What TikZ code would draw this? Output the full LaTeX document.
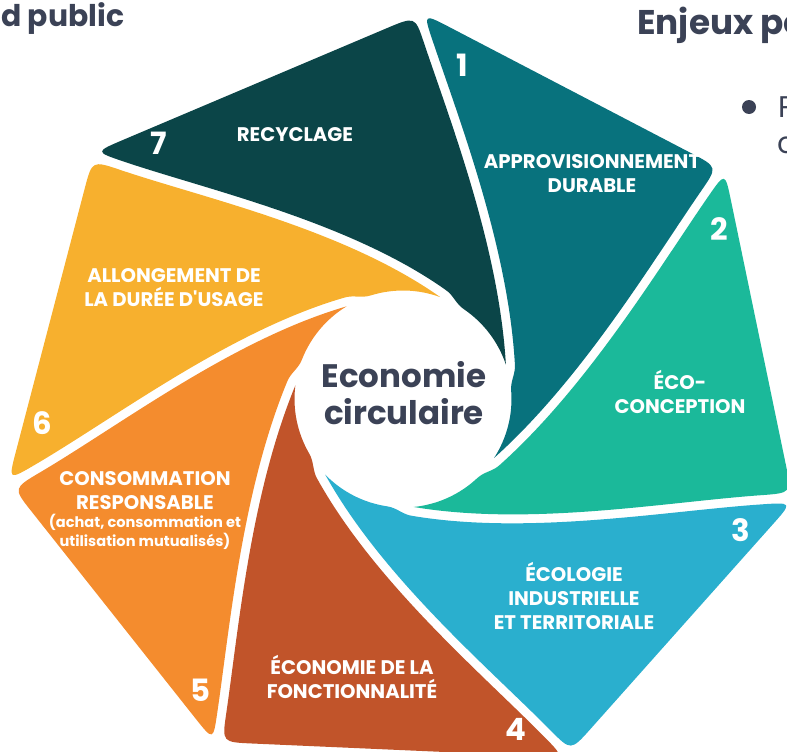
\documentclass[tikz,border=0pt]{standalone}
\usepackage{fontspec}
\setmainfont{Poppins}
\usetikzlibrary{calc}

\definecolor{bladeA}{HTML}{08727D}
\definecolor{bladeB}{HTML}{1BB99A}
\definecolor{bladeC}{HTML}{2AAFCE}
\definecolor{bladeD}{HTML}{C1542A}
\definecolor{bladeE}{HTML}{F48C2E}
\definecolor{bladeF}{HTML}{F7B02E}
\definecolor{bladeG}{HTML}{0B4548}
\definecolor{slate}{HTML}{3B4256}

\tikzset{
  bladelabel/.style={text=white,align=center,inner sep=0pt,
    font=\bfseries\fontsize{11.2}{13.7}\selectfont},
  bladesub/.style={text=white,align=center,inner sep=0pt,
    font=\bfseries\fontsize{8.3}{10.8}\selectfont},
  bladenum/.style={text=white,inner sep=0pt,
    font=\bfseries\fontsize{17.5}{17.5}\selectfont},
}

\begin{document}
\begin{tikzpicture}[x=0.02cm,y=0.02cm]
  \useasboundingbox (-403,-352) rectangle (384,399);
  \clip (-403,-352) rectangle (384,399);

  % seven blades round the centre (outer corners: angle shift, radius)
  \foreach \k/\col/\da/\ra/\db/\rb in {1/bladeA/-0.3/383/-0.67/391,
      2/bladeB/-0.67/391/0.76/400, 3/bladeC/0.76/400/1.29/390,
      4/bladeD/1.29/390/-0.59/388, 5/bladeE/-0.59/388/1.54/400,
      6/bladeF/1.54/400/2.57/392, 7/bladeG/2.57/392/-0.3/383}{
    \pgfmathsetmacro\a{88.5-\k*51.4286}
    \begin{scope}[rotate=\a]
      \coordinate (vb) at (\db:\rb);
      \coordinate (c1) at ({\db-7.77}:282.6);
      \coordinate (c2) at (155,-92);
      \coordinate (tb) at (-70:108.5);
      \begin{scope}[rotate=51.4286]
        \coordinate (va) at ({\da-1.25}:{\ra+3});
        \coordinate (d1) at ({\da-9.37}:286.7);
        \coordinate (d2) at (156.2,-100.9);
        \coordinate (ta) at (38.3,-110.9);
      \end{scope}
      \fill[\col] ($(va)!0.09!(vb)$) -- ($(vb)!0.09!(va)$)
        .. controls (vb) .. ($(vb)!0.25!(c1)$)
        .. controls (c1) and (c2) .. (tb)
        arc[start angle=-70,end angle=-32.57,radius=108.5]
        .. controls +(57.43:10) and +(238.93:10) .. (ta)
        .. controls (d2) and (d1) .. ($(va)!0.25!(d1)$)
        .. controls (va) .. ($(va)!0.09!(vb)$) -- cycle;
    \end{scope}
  }

  % centre
  \node[text=slate,align=center,font=\bfseries\fontsize{18.5}{21}\selectfont]
    (centre) at (1,6) {Economie\\circulaire};

  % labels
  \node[bladelabel] (l1) at (189,225) {APPROVISIONNEMENT\\DURABLE};
  \node[bladelabel] (l2) at (277,7.5) {ÉCO-\\CONCEPTION};
  \node[bladelabel] (l3) at (171,-197) {ÉCOLOGIE\\INDUSTRIELLE\\ET TERRITORIALE};
  \node[bladelabel] (l4) at (-51,-278) {ÉCONOMIE DE LA\\FONCTIONNALITÉ};
  \node[bladelabel] (l5) at (-258,-92) {CONSOMMATION\\RESPONSABLE};
  \node[bladesub] (l5b) at (-258,-132.5) {(achat, consommation et\\utilisation mutualisés)};
  \node[bladelabel] (l6) at (-229,111) {ALLONGEMENT DE\\LA DURÉE D\textquotesingle USAGE};
  \node[bladelabel] (l7) at (-108,264) {RECYCLAGE};

  % numbers
  \node[bladenum] (n1) at (59,334) {1};
  \node[bladenum] (n2) at (316,170) {2};
  \node[bladenum] (n3) at (338,-131) {3};
  \node[bladenum] (n4) at (113,-330) {4};
  \node[bladenum] (n5) at (-203,-291) {5};
  \node[bladenum] (n6) at (-361,-24) {6};
  \node[bladenum] (n7) at (-244,256) {7};

  % page text cut by the frame
  \node[anchor=base west,inner sep=0pt,text=slate,font=\bfseries\fontsize{17}{18}\selectfont]
    (title1) at (-402,372) {d public};
  \node[anchor=base west,inner sep=0pt,text=slate,font=\bfseries\fontsize{19.5}{21}\selectfont]
    (title2) at (234,364) {Enjeux po};
  \fill[slate] (346,292) circle (7);
  \node[anchor=base west,inner sep=0pt,text=slate,font=\fontsize{17}{20}\selectfont]
    (item1) at (375,282) {P};
  \node[anchor=base west,inner sep=0pt,text=slate,font=\fontsize{17}{20}\selectfont]
    (item2) at (374,246) {c};
\end{tikzpicture}
\end{document}
